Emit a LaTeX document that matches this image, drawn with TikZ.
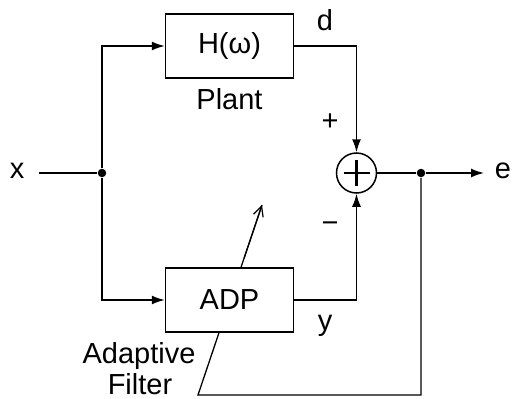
\documentclass[tikz,border=0pt]{standalone}
\usepackage{fontspec}
\setmainfont{Liberation Sans}
\usetikzlibrary{arrows.meta,backgrounds,calc}
\begin{document}
\begin{tikzpicture}[x=1pt,y=-1pt,
  line width=1.5pt,
  lbl/.style={font=\fontsize{29}{32}\selectfont, inner sep=0pt},
  blockbox/.style={draw, fill=white, minimum width=128pt, minimum height=64pt, inner sep=0pt, font=\fontsize{29}{32}\selectfont},
  sumnode/.style={draw, fill=white, circle, minimum size=40pt, inner sep=0pt},
  dotnode/.style={circle, fill=black, minimum size=8.5pt, inner sep=0pt},
  sig/.style={-{Latex[length=13pt,width=9pt]}},
  adapt/.style={-{Straight Barb[length=10pt,width=10pt]}, line width=1.2pt}
]
\useasboundingbox (0,0) rectangle (512,399);

% blocks
\node[blockbox] (H) at (229.5,46) {H(ω)};
\node[blockbox] (ADP) at (229.5,300) {ADP};
\node[sumnode] (S) at (356.5,173) {};
\draw[line width=2.2pt] ([xshift=-13pt]S.center) -- ([xshift=13pt]S.center)
  ([yshift=-13pt]S.center) -- ([yshift=13pt]S.center);

% junctions
\node[dotnode] (j1) at (102,173) {};
\node[dotnode] (j2) at (421,173) {};
\coordinate (xin) at (39,173);
\coordinate (eout) at (484,173);
\coordinate (fbA) at (421,395);
\coordinate (fbB) at (198,395);
\coordinate (fbTip) at (262,205);

% labels
\node[lbl] (xl) at (17,171) {x};
\node[lbl] (el) at (503,171) {e};
\node[lbl, anchor=base] (dl) at (325,30) {d};
\node[lbl, anchor=base] (pl) at (229.5,109) {Plant};
\node[lbl] (plus) at (330,122) {+};
\node[lbl] (minus) at (330,227) {−};
\node[lbl, anchor=base] (yl) at (325,330) {y};
\node[lbl, anchor=base] (al1) at (139,363) {Adaptive};
\node[lbl, anchor=base] (al2) at (140,394) {Filter};

% connectors
\draw (xin) -- (j1);
\draw[sig] (j1) |- (H.west);
\draw[sig] (j1) |- (ADP.west);
\draw[sig] (H.east) -| (S.north);
\draw[sig] (ADP.east) -| (S.south);
\draw (S.east) -- (j2);
\draw[sig] (j2) -- (eout);

\begin{scope}[on background layer]
\draw[line width=1.3pt] (j2) -- (fbA) -- (fbB) -- (fbTip);
\end{scope}
\draw[adapt] ($(fbB)!0.72!(fbTip)$) -- (fbTip);
\end{tikzpicture}
\end{document}
